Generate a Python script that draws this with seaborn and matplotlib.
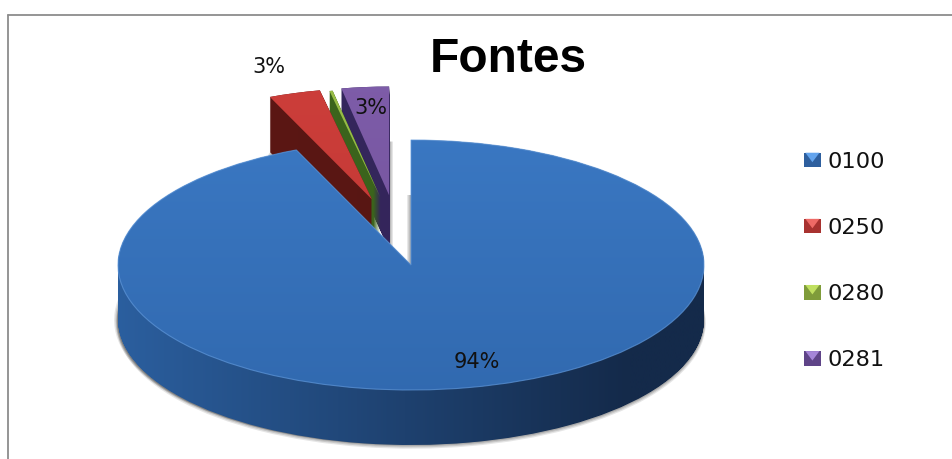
import numpy as np
import seaborn as sns
import matplotlib.pyplot as plt
from matplotlib.colors import to_rgb
from matplotlib.legend_handler import HandlerBase
from matplotlib.patches import Patch, Polygon, Rectangle
from matplotlib.path import Path

# data
fontes = ['0100', '0250', '0280', '0281']
shares = [93.6, 3.2, 0.2, 3.0]
pct_labels = ['94%', '3%', '', '3%']
explode = [0, 0.55, 0.55, 0.56]
shift_x = [0, 0.030, 0.002, -0.022]
piece_r = [1.0, 0.89, 0.87, 0.87]

top_hi = ['#3f7fcc', '#d0403c', '#9dc24a', '#8260ad']
top_lo = ['#2f66ab', '#bb3431', '#86a83c', '#6b4c94']
side_hi = ['#2b5f9f', '#5f1815', '#3f6a1e', '#3a2a63']
side_lo = ['#142a4a', '#4f1310', '#35591a', '#2c2050']
key_dark = ['#2e5f9e', '#a83230', '#7f9c3a', '#5f4488']
key_light = ['#63a4ee', '#ee6a66', '#c0e060', '#a585d8']

sns.set_theme(style='white')
plt.rcParams['font.family'] = ['DejaVu Sans']

W, H = 952, 459
cx, cy = 411, 265
rx, ry = 293.0, 125.0
depth_px = 55

fig = plt.figure(figsize=(W / 100, H / 100), dpi=100)
ax = fig.add_axes([0, 0, 1, 1])
xlim = (-cx / rx, (W - cx) / rx)
ylim = ((cy - H) / ry, cy / ry)


def one_wedge(i, dy=0.0, radius=None, dx=0.0, color='k', zorder=1, alpha=None, **kw):
    if radius is None:
        radius = piece_r[i]
    wedges, _ = ax.pie(shares, startangle=90, counterclock=False, explode=explode,
                       radius=radius, center=(shift_x[i] + dx, -dy), normalize=True,
                       colors=[color] * 4,
                       wedgeprops=dict(linewidth=kw.get('lw', 0), alpha=alpha, zorder=zorder,
                                       edgecolor=kw.get('edge', 'none')))
    for j, w in enumerate(wedges):
        if j != i:
            w.remove()
    return wedges[i]


def gradient(path, c0, c1, vertical, zorder, t0=0.0, t1=1.0):
    t = np.clip((np.linspace(0, 1, 256) - t0) / (t1 - t0), 0, 1)
    rgb0, rgb1 = np.array(to_rgb(c0)), np.array(to_rgb(c1))
    img = rgb0 + (rgb1 - rgb0) * t[:, None]
    img = img[:, None, :] if vertical else img[None, :, :]
    im = ax.imshow(img, extent=(xlim[0], xlim[1], ylim[0], ylim[1]), origin='upper',
                   aspect='auto', zorder=zorder, interpolation='bilinear')
    im.set_clip_path(path, ax.transData)


def draw_slice(i, base_z, t0=0.0, t1=1.0):
    paths = []
    for dy in np.arange(0, depth_px + 1) / ry:
        w = one_wedge(i, dy=dy, color='none', zorder=0)
        paths.append(w.get_path().deepcopy())
        w.remove()
    gradient(Path.make_compound_path(*paths), side_hi[i], side_lo[i], False, base_z, t0, t1)
    top = one_wedge(i, color='none', zorder=0)
    top_path = top.get_path().deepcopy()
    top.remove()
    gradient(top_path, top_hi[i], top_lo[i], True, base_z + 0.5)


# soft shadows behind the pieces
for k, a in zip([1, 2, 3], [0.25, 0.2, 0.15]):
    one_wedge(0, dy=(depth_px + k) / ry, radius=1 + k * 0.002, color='#555555', zorder=1, alpha=a)
    one_wedge(0, dy=depth_px / ry, dx=-k * 1.3 / rx, color='#555555', zorder=1, alpha=a)
    one_wedge(3, dy=depth_px / ry, dx=k * 1.3 / rx, color='#555555', zorder=1, alpha=a)
    one_wedge(1, dy=(depth_px + k) / ry, dx=-k * 0.8 / rx, color='#555555', zorder=1, alpha=a)

# back to front: 0281, 0280, 0250, then the big slice covers their feet
draw_slice(3, 2)
draw_slice(2, 3)
draw_slice(1, 4)
draw_slice(0, 6, t0=0.12, t1=0.66)
one_wedge(0, color='none', zorder=7, lw=0.8, edge='#5f97da', alpha=0.7)

ax.set_aspect('auto')
ax.set_xlim(xlim)
ax.set_ylim(ylim)
ax.axis('off')
fig.patch.set_facecolor('white')


def px(x, y):
    return (x - cx) / rx, (cy - y) / ry


# percent labels
ax.text(*px(477, 362), pct_labels[0], fontsize=15, ha='center', va='center', color='#111111', zorder=9)
ax.text(*px(269, 67), pct_labels[1], fontsize=15, ha='center', va='center', color='#111111', zorder=9)
ax.text(*px(371, 108), pct_labels[3], fontsize=15, ha='center', va='center', color='#111111', zorder=9)

# title
ax.text(*px(508, 59), 'Fontes', fontsize=34.5, fontweight='bold', family='Liberation Sans',
        ha='center', va='center', color='black', zorder=9)


# bevelled legend keys like the office chart
class BevelKey(HandlerBase):
    def create_artists(self, legend, orig_handle, xdescent, ydescent, width, height, fontsize, trans):
        base = Rectangle((-xdescent, -ydescent), width, height, facecolor=orig_handle.get_facecolor(),
                         edgecolor='none', transform=trans)
        tri = Polygon([(-xdescent + 1, -ydescent + height), (-xdescent + width - 1, -ydescent + height),
                       (-xdescent + width / 2, -ydescent + height * 0.35)],
                      facecolor=to_rgb(orig_handle.get_edgecolor()), edgecolor='none', transform=trans)
        return [base, tri]


handles = [Patch(facecolor=d, edgecolor=l, label=f) for d, l, f in zip(key_dark, key_light, fontes)]
fig.legend(handles=handles, loc='upper left', bbox_to_anchor=(0.8445, 0.669), frameon=False,
           handler_map={Patch: BevelKey()}, fontsize=16.2, labelspacing=2.05,
           handlelength=0.75, handleheight=0.62, handletextpad=0.28, borderpad=0, borderaxespad=0,
           labelcolor='#111111')

# chart frame, open on the right and at the bottom
for xs, ys in [((8, 8), (15, 459)), ((8, 952), (15, 15))]:
    ax.plot(*px(np.array(xs), np.array(ys)), color='#8c8c8c', lw=1.3, zorder=10, clip_on=False)
ax.set_xlim(xlim)
ax.set_ylim(ylim)

fig.savefig('out.png', dpi=100)
